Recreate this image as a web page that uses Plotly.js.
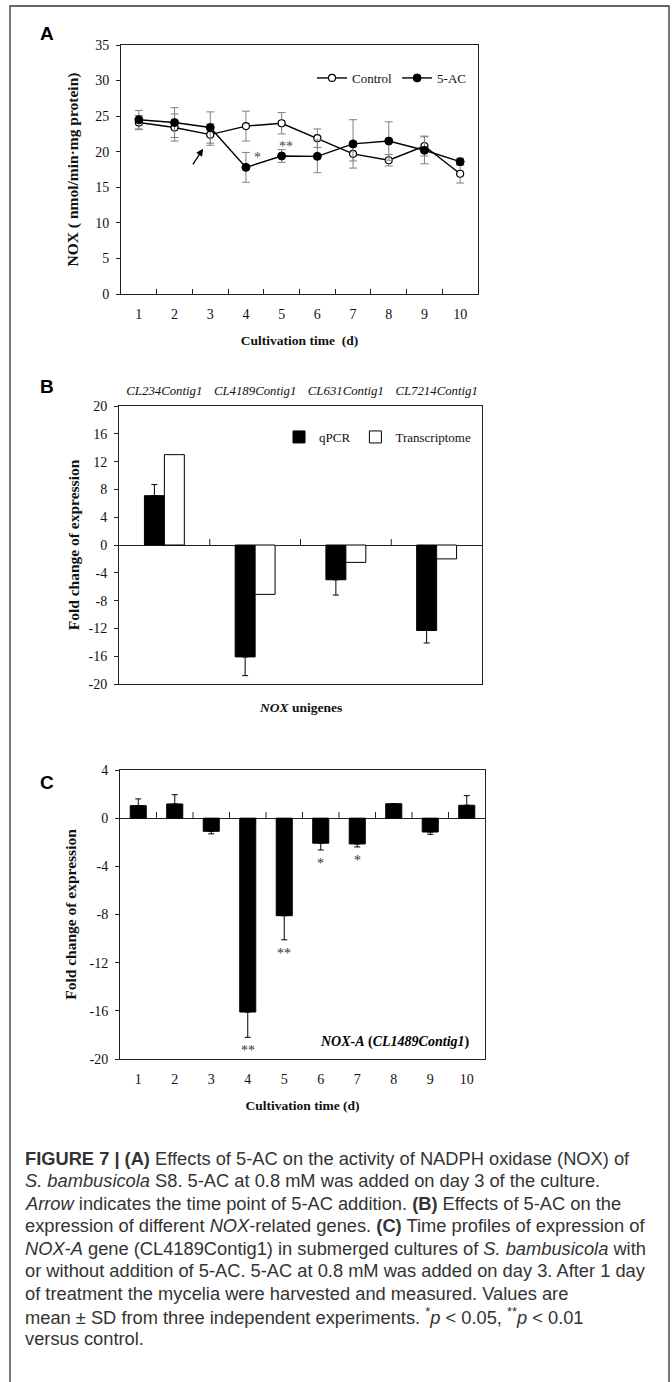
<!DOCTYPE html>
<html><head><meta charset="utf-8">
<script src="https://cdn.plot.ly/plotly-3.0.1.min.js"></script>
<style>html,body{margin:0;padding:0;background:#fff;} #chart{width:672px;height:1382px;}</style>
</head><body><div id="chart"></div>
<script>
// ---------- Panel A: NOX activity ----------
const days = ['1','2','3','4','5','6','7','8','9','10'];
const controlNOX = [24.1, 23.4, 22.4, 23.6, 24.0, 21.9, 19.7, 18.8, 20.8, 16.9];
const controlSD  = [1.0, 1.9, 1.5, 2.1, 1.5, 1.3, 1.0, 0.8, 1.4, 1.3];
const acNOX      = [24.5, 24.1, 23.4, 17.8, 19.4, 19.35, 21.1, 21.5, 20.2, 18.6];
const acSD       = [1.3, 2.1, 2.2, 2.1, 0.9, 2.3, 3.4, 2.7, 1.9, 0.5];
const sigA       = ['', '', '', '*', '**', '', '', '', '', ''];
const additionDay = '3';

// ---------- Panel B: NOX unigenes ----------
const genes = ['CL234Contig1', 'CL4189Contig1', 'CL631Contig1', 'CL7214Contig1'];
const qPCR = [7.1, -16.1, -5.0, -12.3];
const qPCRerr = [1.6, 2.7, 2.2, 1.8];
const transcriptome = [13.0, -7.1, -2.5, -2.0];

// ---------- Panel C: NOX-A time profile ----------
const noxA    = [1.04, 1.18, -1.09, -16.1, -8.1, -2.08, -2.14, 1.2, -1.15, 1.07];
const noxAerr = [0.56, 0.77, 0.21, 2.1, 2.0, 0.56, 0.25, 0, 0.19, 0.8];
const sigC    = ['', '', '', '**', '**', '*', '*', '', '', ''];

const captionLines = [
  '<b>FIGURE 7 | (A)</b> Effects of 5-AC on the activity of NADPH oxidase (NOX) of',
  '<i>S. bambusicola</i> S8. 5-AC at 0.8 mM was added on day 3 of the culture.',
  '<i>Arrow</i> indicates the time point of 5-AC addition. <b>(B)</b> Effects of 5-AC on the',
  'expression of different <i>NOX</i>-related genes. <b>(C)</b> Time profiles of expression of',
  '<i>NOX-A</i> gene (CL4189Contig1) in submerged cultures of <i>S. bambusicola</i> with',
  'or without addition of 5-AC. 5-AC at 0.8 mM was added on day 3. After 1 day',
  'of treatment the mycelia were harvested and measured. Values are',
  'mean ± SD from three independent experiments. <sup>*</sup><i>p</i> &lt; 0.05, <sup>**</sup><i>p</i> &lt; 0.01',
  'versus control.'
];

// ---------- layout helpers ----------
const W = 672, H = 1382;
const px = v => v / W;
const py = v => 1 - v / H;
const serif = '"Liberation Serif", "Times New Roman", serif';
const sans = '"Liberation Sans", Arial, sans-serif';
const axLine = '#222';
const tickF = {family: serif, size: 14, color: '#111'};
const xTitleF = {family: serif, size: 13.5, color: '#111'};
const yTitleF = {family: serif, size: 15.5, color: '#111'};

const domA = {x: [px(121), px(478)], y: [py(294), py(45)]};
const domB = {x: [px(119), px(482)], y: [py(684), py(406)]};
const domC = {x: [px(120), px(485)], y: [py(1059), py(770)]};
const rangeB = [-20, 20], rangeC = [-20, 4];
const boundaries = n => Array.from({length: n - 1}, (_, i) => i + 0.5);
const tickList = (r, step) => { const v = []; for (let t = r[0]; t <= r[1] + 1e-9; t += step) v.push(t); return v; };
const ticksB = tickList(rangeB, 4), ticksC = tickList(rangeC, 4);

const errGrey = '#808080';
const traces = [
  {type: 'scatter', mode: 'lines+markers', name: 'Control', x: days, y: controlNOX,
   xaxis: 'x', yaxis: 'y', legend: 'legend',
   line: {color: '#000', width: 1.4},
   marker: {symbol: 'circle', size: 7, color: '#fff', line: {color: '#000', width: 1.2}},
   error_y: {type: 'data', array: controlSD, color: errGrey, thickness: 1, width: 4}},
  {type: 'scatter', mode: 'lines+markers', name: '5-AC', x: days, y: acNOX,
   xaxis: 'x', yaxis: 'y', legend: 'legend',
   line: {color: '#000', width: 1.4},
   marker: {symbol: 'circle', size: 8, color: '#000', line: {color: '#000', width: 1}},
   error_y: {type: 'data', array: acSD, color: errGrey, thickness: 1, width: 4}},
  {type: 'bar', name: 'qPCR', x: genes, y: qPCR, xaxis: 'x2', yaxis: 'y2', legend: 'legend2',
   marker: {color: '#000', line: {color: '#000', width: 1}},
   error_y: {type: 'data', symmetric: false,
     array: qPCR.map((v, i) => v >= 0 ? qPCRerr[i] : 0),
     arrayminus: qPCR.map((v, i) => v < 0 ? qPCRerr[i] : 0),
     color: '#000', thickness: 1, width: 3}},
  {type: 'bar', name: 'Transcriptome', x: genes, y: transcriptome, xaxis: 'x2', yaxis: 'y2', legend: 'legend2',
   marker: {color: '#fff', line: {color: '#000', width: 1}}},
  {type: 'bar', name: 'NOX-A', x: days, y: noxA, xaxis: 'x3', yaxis: 'y3', showlegend: false,
   marker: {color: '#000', line: {color: '#000', width: 1}},
   error_y: {type: 'data', symmetric: false,
     array: noxA.map((v, i) => v >= 0 ? noxAerr[i] : 0),
     arrayminus: noxA.map((v, i) => v < 0 ? noxAerr[i] : 0),
     color: '#000', thickness: 1, width: 3}}
];

const annotations = [];
// panel letters
[['A', 34], ['B', 387], ['C', 782]].forEach(([t, y]) => annotations.push({
  xref: 'paper', yref: 'paper', x: px(47), y: py(y), text: '<b>' + t + '</b>', showarrow: false,
  xanchor: 'center', yanchor: 'middle', font: {family: sans, size: 19, color: '#000'}}));

// significance marks, panel A (above/next to 5-AC error bars)
sigA.forEach((s, i) => {
  if (!s) return;
  const top = acNOX[i] + acSD[i];
  const beside = s === '*';
  annotations.push({xref: 'x', yref: 'y', x: i, y: top, text: s, showarrow: false,
    xanchor: 'center', yanchor: beside ? 'top' : 'bottom',
    xshift: beside ? 12 : 4, yshift: beside ? 4 : -6,
    font: {family: serif, size: 14, color: '#444'}});
});
// arrow marking 5-AC addition (points at the day-3 control value)
const addIdx = days.indexOf(additionDay);
annotations.push({xref: 'x', yref: 'y', axref: 'x', ayref: 'y',
  x: addIdx - 0.2, y: controlNOX[addIdx] - 2.0,
  ax: addIdx - 0.57, ay: controlNOX[addIdx] - 4.8,
  text: ' ', showarrow: true, arrowhead: 2, arrowsize: 1.1, arrowwidth: 1.3, arrowcolor: '#000'});

// x-axis title of panel B (tick labels of that axis sit on top)
annotations.push({xref: 'paper', yref: 'paper', x: (domB.x[0] + domB.x[1]) / 2, y: py(707),
  text: '<b><i>NOX</i> unigenes</b>', showarrow: false, xanchor: 'center', yanchor: 'middle', font: xTitleF});

// significance marks, panel C (below error bars)
sigC.forEach((s, i) => {
  if (!s) return;
  const bottom = noxA[i] - noxAerr[i];
  annotations.push({xref: 'x3', yref: 'y3', x: i, y: bottom, text: s, showarrow: false,
    xanchor: 'center', yanchor: 'top', yshift: -4,
    font: {family: serif, size: 14, color: '#333'}});
});
// gene label, panel C
annotations.push({xref: 'paper', yref: 'paper', x: px(472), y: py(1042),
  text: '<b><i>NOX-A</i> (<i>CL1489Contig1</i>)</b>', showarrow: false,
  xanchor: 'right', yanchor: 'middle', font: {family: serif, size: 14, color: '#000'}});

// caption
captionLines.forEach((t, k) => annotations.push({xref: 'paper', yref: 'paper',
  x: px(23), y: py(1158 + k * 22.5), text: t, showarrow: false, xanchor: 'left', yanchor: 'middle',
  align: 'left', font: {family: sans, size: 18.3, color: '#333'}}));

// category-boundary tick marks standing on the zero line (panels B and C)
const shapes = [{type: 'rect', xref: 'paper', yref: 'paper', x0: px(10), x1: px(669), y0: py(1400), y1: py(6),
  line: {color: '#333', width: 1.3}, fillcolor: 'rgba(0,0,0,0)', layer: 'below'}];
[['x2', 'y2', genes.length], ['x3', 'y3', days.length]].forEach(([xr, yr, n]) =>
  boundaries(n).forEach(b => shapes.push({type: 'line', xref: xr, yref: yr, x0: b, x1: b,
    ysizemode: 'pixel', yanchor: 0, y0: 0, y1: 6, line: {color: axLine, width: 1}})));

const baseX = {showgrid: false, zeroline: false, showline: true, mirror: true, linecolor: axLine, linewidth: 1,
  tickcolor: axLine, tickfont: tickF, fixedrange: true};
const baseY = {showgrid: false, showline: true, mirror: true, linecolor: axLine,
  linewidth: 1, ticks: 'outside', ticklen: 4, tickcolor: axLine, tickfont: tickF,
  zerolinecolor: axLine, zerolinewidth: 1, ticklabelstandoff: 4, fixedrange: true};

const layout = {
  width: W, height: H, margin: {l: 0, r: 0, t: 0, b: 0},
  paper_bgcolor: '#fff', plot_bgcolor: '#fff',
  font: {family: serif, color: '#111'},
  barmode: 'group', bargap: 0.56, bargroupgap: 0,
  // Panel A
  xaxis: Object.assign({}, baseX, {domain: domA.x, anchor: 'y', type: 'category',
    range: [-0.5, days.length - 0.5], ticks: 'inside', tickson: 'boundaries',
    ticklen: 5, ticklabelstandoff: 7,
    title: {text: '<b>Cultivation time\u00a0 (d)</b>', font: xTitleF, standoff: 14}}),
  yaxis: Object.assign({}, baseY, {domain: domA.y, anchor: 'x', range: [0, 35], dtick: 5, zeroline: false,
    title: {text: '<b>NOX ( nmol/min·mg protein)</b>', font: yTitleF, standoff: 12}}),
  // Panel B
  xaxis2: Object.assign({}, baseX, {domain: domB.x, anchor: 'y2', type: 'category', side: 'top',
    range: [-0.5, genes.length - 0.5], ticks: '', ticklabelstandoff: 5,
    tickvals: genes, ticktext: genes.map(g => '<i>' + g + '</i>'),
    tickfont: {family: serif, size: 12.8, color: '#111'}}),
  yaxis2: Object.assign({}, baseY, {domain: domB.y, anchor: 'x2', range: rangeB, zeroline: true,
    tickvals: ticksB, ticktext: ticksB.map(String),
    title: {text: '<b>Fold change of expression</b>', font: yTitleF, standoff: 5}}),
  // Panel C
  xaxis3: Object.assign({}, baseX, {domain: domC.x, anchor: 'y3', type: 'category',
    range: [-0.5, days.length - 0.5], ticks: '', ticklabelstandoff: 7,
    title: {text: '<b>Cultivation time (d)</b>', font: xTitleF, standoff: 14}}),
  yaxis3: Object.assign({}, baseY, {domain: domC.y, anchor: 'x3', range: rangeC, zeroline: true,
    tickvals: ticksC, ticktext: ticksC.map(String),
    title: {text: '<b>Fold change of expression</b>', font: yTitleF, standoff: 9}}),
  legend: {x: px(472), xanchor: 'right', y: py(78), yanchor: 'middle', orientation: 'h',
    font: {family: serif, size: 13, color: '#111'}, bgcolor: 'rgba(0,0,0,0)', itemwidth: 30,
    traceorder: 'normal'},
  legend2: {x: px(476), xanchor: 'right', y: py(437), yanchor: 'middle', orientation: 'h',
    font: {family: serif, size: 13, color: '#111'}, bgcolor: 'rgba(0,0,0,0)', itemwidth: 30,
    traceorder: 'normal'},
  shapes: shapes,
  annotations: annotations
};

Plotly.newPlot('chart', traces, layout, {displayModeBar: false, staticPlot: true});
</script></body></html>
